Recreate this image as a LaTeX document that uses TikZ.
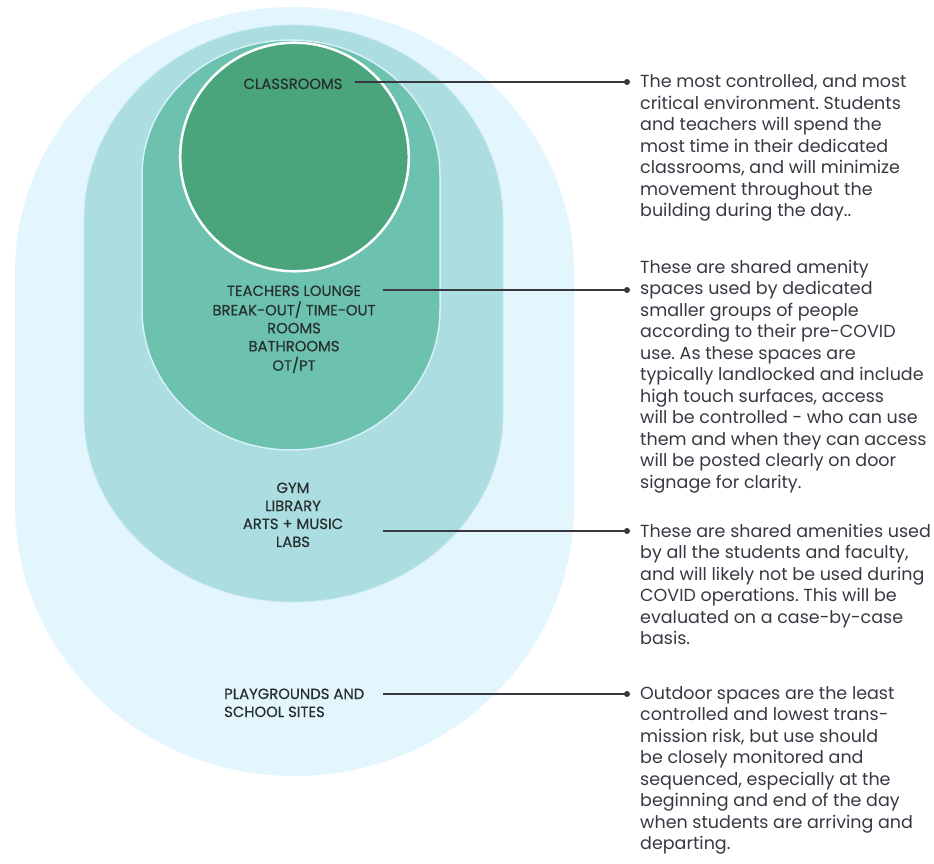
\documentclass[tikz,border=0pt]{standalone}
\usepackage{fontspec}
\setmainfont{Poppins}
\newfontfamily\labfont{Poppins}[FakeBold=0.5]
\definecolor{outerc}{HTML}{E3F6FD}
\definecolor{midc}{HTML}{ABDDE1}
\definecolor{innerc}{HTML}{6DC1AF}
\definecolor{corec}{HTML}{4AA57D}
\definecolor{rimc}{HTML}{D6F1F8}
\definecolor{labc}{HTML}{27302E}
\definecolor{txtc}{HTML}{383843}
\definecolor{linec}{HTML}{38383E}
\tikzset{
  zonelab/.style={inner sep=0pt, text=labc, anchor=base, font=\labfont\fontsize{14.8}{18}\selectfont},
  desc/.style={inner sep=0pt, text=txtc, anchor=base west, font=\fontsize{17.5}{21.5}\selectfont},
  dotnode/.style={circle, fill=linec, inner sep=0pt, minimum size=6pt},
  leader/.style={draw=linec, line width=1.5pt}
}
\frenchspacing
\begin{document}
\begin{tikzpicture}[x=1pt,y=1pt]
\useasboundingbox (0,0) rectangle (934,863);
% zones
\fill[outerc] (15,358) -- (15,591) arc[start angle=180,end angle=0,x radius=279.5,y radius=265]
  -- (574,358) arc[start angle=0,end angle=-180,x radius=279.5,y radius=271] -- cycle;
\filldraw[fill=midc, draw=rimc!60!midc, line width=0.8pt] (84,448) -- (84,643) arc[start angle=180,end angle=0,x radius=209.5,y radius=195]
  -- (503,448) arc[start angle=0,end angle=-180,x radius=209.5,y radius=187] -- cycle;
\filldraw[fill=innerc, draw=rimc, line width=1.5pt] (142,553) -- (142,688) arc[start angle=180,end angle=0,x radius=149,y radius=135]
  -- (440,553) arc[start angle=0,end angle=-180,x radius=149,y radius=140] -- cycle;
\filldraw[fill=corec, draw=white, line width=2.5pt] (294.5,706) circle[radius=114.3];
% labels
\node[zonelab] (l1) at (293,774) {CLASSROOMS};
\node[zonelab] (l2) at (294,567) {\begin{tabular}[t]{@{}c@{}}TEACHERS LOUNGE\\BREAK-OUT/ TIME-OUT\\ROOMS\\BATHROOMS\\OT/PT\end{tabular}};
\node[zonelab] (l3) at (293,370) {\begin{tabular}[t]{@{}c@{}}GYM\\LIBRARY\\ARTS + MUSIC\\LABS\end{tabular}};
\node[zonelab, anchor=base west] (l4) at (224,164) {\begin{tabular}[t]{@{}l@{}}PLAYGROUNDS AND\\SCHOOL SITES\end{tabular}};
% leader start points and dots
\coordinate (s1) at (355,781);
\coordinate (s2) at (383,573);
\coordinate (s3) at (383,332);
\coordinate (s4) at (383,169);
\node[dotnode] (d1) at (627,781) {};
\node[dotnode] (d2) at (627,573) {};
\node[dotnode] (d3) at (627,332) {};
\node[dotnode] (d4) at (627,169) {};
\draw[leader] (s1) -- (d1.center);
\draw[leader] (s2) -- (d2.center);
\draw[leader] (s3) -- (d3.center);
\draw[leader] (s4) -- (d4.center);
% descriptions
\node[desc] (t1) at (640,775) {\parbox[t]{300pt}{\raggedright The most controlled, and most\\critical environment. Students\\and teachers will spend the\\most time in their dedicated\\classrooms, and will minimize\\movement throughout the\\building during the day..}};
\node[desc] (t2) at (640,589.5) {\parbox[t]{300pt}{\raggedright These are shared amenity\\spaces used by dedicated\\smaller groups of people\\according to their pre-COVID\\use. As these spaces are\\typically landlocked and include\\high touch surfaces, access\\will be controlled - who can use\\them and when they can access\\will be posted clearly on door\\signage for clarity.}};
\node[desc] (t3) at (640,326) {\parbox[t]{300pt}{\raggedright These are shared amenities used\\by all the students and faculty,\\and will likely not be used during\\COVID operations. This will be\\evaluated on a case-by-case\\basis.}};
\node[desc] (t4) at (640,164) {\parbox[t]{300pt}{\raggedright Outdoor spaces are the least\\controlled and lowest trans-\\mission risk, but use should\\be closely monitored and\\sequenced, especially at the\\beginning and end of the day\\when students are arriving and\\departing.}};
\end{tikzpicture}
\end{document}
